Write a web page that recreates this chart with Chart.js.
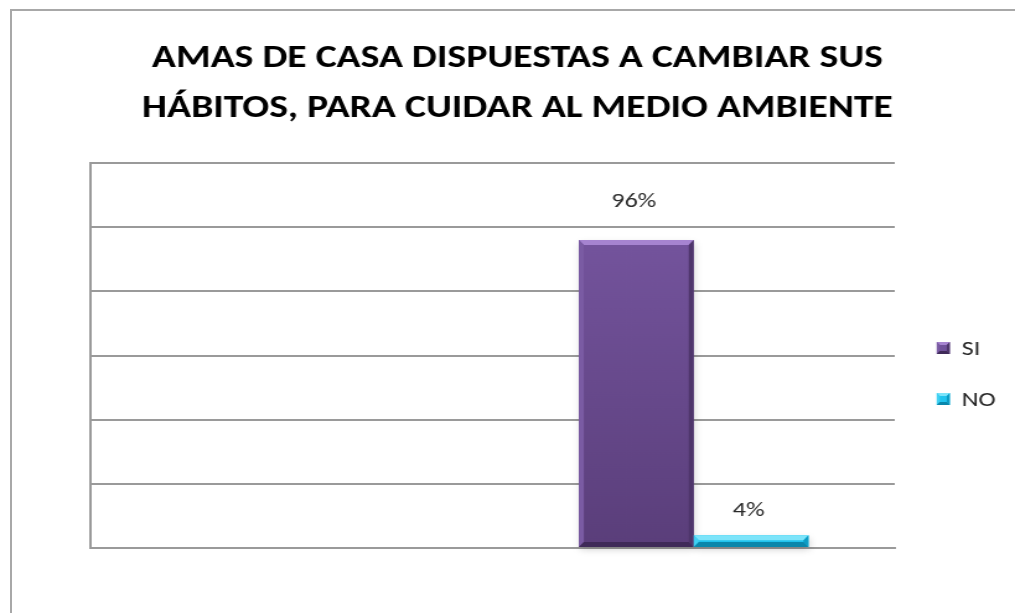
<!DOCTYPE html>
<html>
<head>
<meta charset="utf-8">
<script src="https://cdn.jsdelivr.net/npm/chart.js@4"></script>
<style>
  body { margin: 0; background: #fff; }
  #wrap { position: relative; width: 1015px; height: 613px; overflow: hidden; }
  #frame { position: absolute; left: 10px; top: 9px; width: 1100px; height: 700px; border: 2px solid #a8a8a8; }
  canvas { position: absolute; left: 0; top: 0; }
</style>
</head>
<body>
<div id="wrap">
  <div id="frame"></div>
  <!-- the original picture is stretched sideways, so the canvas is drawn narrow and widened by CSS -->
  <canvas id="chart" width="819" height="613" style="width:1015px;height:613px"></canvas>
</div>
<script>
// Chart data
const titleLines = ['AMAS DE CASA DISPUESTAS A CAMBIAR SUS', 'HÁBITOS, PARA CUIDAR AL MEDIO AMBIENTE'];
const categories = ['', ''];
const seriesNames = ['SI', 'NO'];
const siValues = [null, 96];
const noValues = [null, 4];
const yTicks = [0, 20, 40, 60, 80, 100, 120];

const K = 1015 / 819;   // horizontal stretch
const FONT = 'Carlito, "Open Sans", "Liberation Sans", sans-serif';
const GRID = '#9a9a9a';

// vertical gradient across the plot area
function barFill(top, bottom) {
    return ctx => {
        const area = ctx.chart.chartArea;
        if (!area) return bottom;
        const g = ctx.chart.ctx.createLinearGradient(0, area.top, 0, area.bottom);
        g.addColorStop(0, top);
        g.addColorStop(1, bottom);
        return g;
    };
}

function poly(c, pts) {
    c.beginPath();
    c.moveTo(pts[0][0], pts[0][1]);
    pts.slice(1).forEach(p => c.lineTo(p[0], p[1]));
    c.closePath();
    c.fill();
}

// draws the bevelled edges of a box (bx horizontal, by vertical size)
function drawBevel(c, l, t, r, bt, bx, by, s) {
    c.fillStyle = s.light;
    poly(c, [[l, t], [r, t], [r - bx, t + by], [l + bx, t + by]]);
    c.fillStyle = s.side;
    poly(c, [[l, t], [l + bx, t + by], [l + bx, bt - by], [l, bt]]);
    c.fillStyle = s.dark;
    poly(c, [[r, t], [r, bt], [r - bx, bt - by], [r - bx, t + by]]);
    c.fillStyle = s.bottom;
    poly(c, [[l, bt], [l + bx, bt - by], [r - bx, bt - by], [r, bt]]);
}

// Bar shadow, bevel and value labels
const barDecor = {
    id: 'barDecor',
    beforeDatasetsDraw(chart) {
        const c = chart.ctx;
        c.save();
        chart.data.datasets.forEach((ds, i) => {
            chart.getDatasetMeta(i).data.forEach((bar, j) => {
                if (ds.data[j] == null) return;
                const p = bar.getProps(['x', 'y', 'base', 'width'], true);
                c.fillStyle = 'rgba(0,0,0,0.16)';
                c.filter = 'blur(3px)';
                c.fillRect(p.x - p.width / 2 + 1, p.y + 3, p.width, p.base - p.y);
                c.filter = 'none';
            });
        });
        c.restore();
    },
    afterDatasetsDraw(chart) {
        const c = chart.ctx;
        c.save();
        chart.data.datasets.forEach((ds, i) => {
            chart.getDatasetMeta(i).data.forEach((bar, j) => {
                const v = ds.data[j];
                if (v == null) return;
                const p = bar.getProps(['x', 'y', 'base', 'width'], true);
                const l = p.x - p.width / 2, r = p.x + p.width / 2;
                const b = Math.min(5, (p.base - p.y) / 2);
                drawBevel(c, l, p.y, r, p.base, b / K, b, ds.bevel);
                c.fillStyle = '#2b2b2b';
                c.font = '21px ' + FONT;
                c.textAlign = 'center';
                c.textBaseline = 'middle';
                c.fillText(v + '%', p.x - 2, p.y - ds.labelLift);
            });
        });
        c.restore();
    }
};

// Legend on the right side
const sideLegend = {
    id: 'sideLegend',
    afterDraw(chart) {
        const c = chart.ctx;
        const area = chart.chartArea;
        c.save();
        chart.data.datasets.forEach((ds, i) => {
            const x = area.right + 42 / K;
            const y = area.top + 185 + i * 51;
            const w = 13 / K;
            c.fillStyle = ds.legendColor;
            c.fillRect(x, y - 6, w, 12);
            drawBevel(c, x, y - 6, x + w, y + 6, 3 / K, 3, ds.bevel);
            c.fillStyle = '#262626';
            c.font = '21px ' + FONT;
            c.textAlign = 'left';
            c.textBaseline = 'middle';
            c.fillText(ds.label, x + 25 / K, y + 2);
        });
        c.restore();
    }
};

new Chart(document.getElementById('chart'), {
    type: 'bar',
    data: {
        labels: categories,
        datasets: [{
            label: seriesNames[0],
            data: siValues,
            backgroundColor: barFill('#7a59a5', '#5a3e7a'),
            legendColor: '#70519a',
            bevel: { light: '#a684d0', side: '#7a5ba3', dark: '#4e356b', bottom: '#3f2a58' },
            labelLift: 38,
            borderWidth: 0
        }, {
            label: seriesNames[1],
            data: noValues,
            backgroundColor: '#21c4ee',
            legendColor: '#21c4ee',
            bevel: { light: '#7ce4fa', side: '#3fd0f2', dark: '#0c9cc4', bottom: '#0a87ab' },
            labelLift: 24,
            borderWidth: 0
        }]
    },
    options: {
        responsive: false,
        devicePixelRatio: 1,
        animation: false,
        categoryPercentage: 0.571,
        barPercentage: 1,
        layout: { padding: { left: 16 } },
        plugins: {
            legend: { display: false },
            tooltip: { enabled: false },
            title: {
                display: true,
                text: titleLines,
                color: '#000',
                font: { family: FONT, size: 32, weight: 'bold', lineHeight: 50 / 32 },
                padding: { top: 34, bottom: 29 }
            }
        },
        scales: {
            x: {
                grid: { display: false },
                ticks: { display: false },
                border: { display: true, color: GRID, width: 2 },
                afterFit: s => { s.height = 65; }
            },
            y: {
                min: yTicks[0],
                max: yTicks[yTicks.length - 1],
                ticks: { display: false, stepSize: yTicks[1] - yTicks[0] },
                grid: { color: GRID, lineWidth: 2, drawTicks: false },
                border: { display: true, color: GRID, width: 2 },
                afterFit: s => { s.width = 57; }
            },
            yRight: {
                position: 'right',
                grid: { display: false },
                ticks: { display: false },
                border: { display: false },
                afterFit: s => { s.width = 97; }
            }
        }
    },
    plugins: [barDecor, sideLegend]
});
</script>
</body>
</html>
